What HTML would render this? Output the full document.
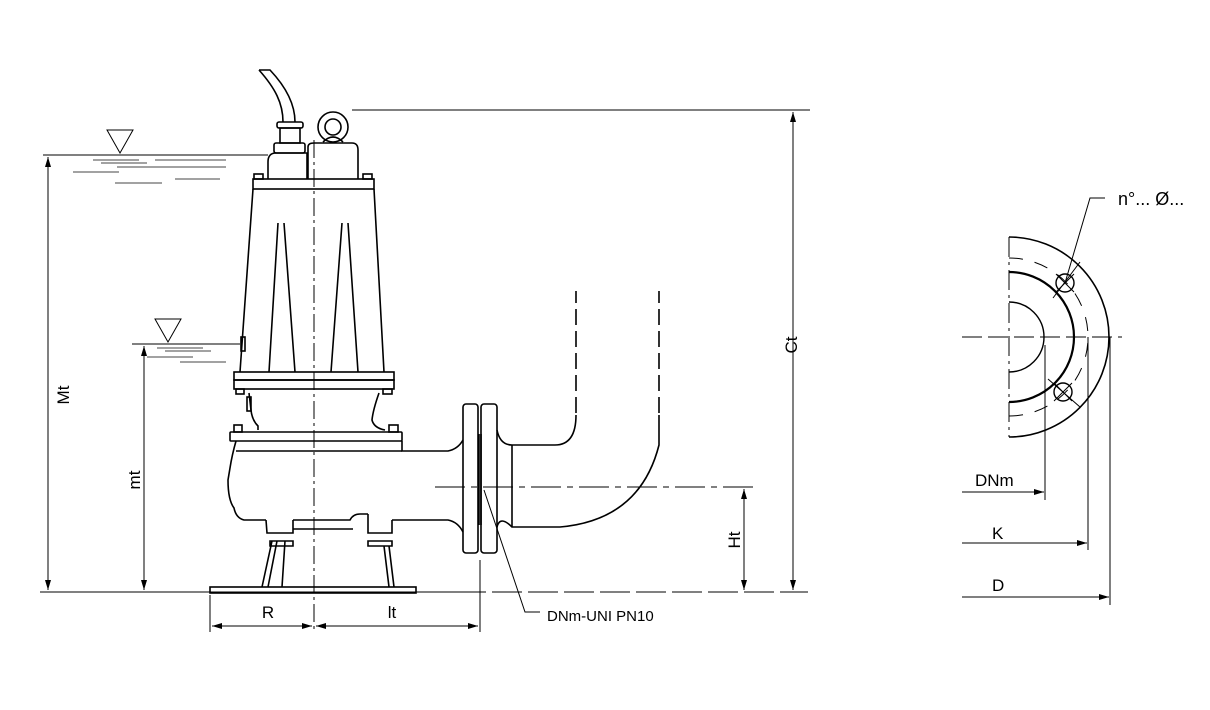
<!DOCTYPE html>
<html><head><meta charset="utf-8"><style>
html,body{margin:0;padding:0;background:#fff;width:1210px;height:710px;overflow:hidden}
svg{display:block}
text{font-family:"Liberation Sans",Arial,sans-serif;fill:#000}
</style></head><body>
<svg width="1210" height="710" viewBox="0 0 1210 710" xmlns="http://www.w3.org/2000/svg">
<defs>
<marker id="a" viewBox="0 0 10 6" refX="10" refY="3" markerWidth="10" markerHeight="6" orient="auto-start-reverse" markerUnits="userSpaceOnUse"><path d="M0,0 L10,3 L0,6 z" fill="#000"/></marker>
</defs>
<g fill="none" stroke="#000" stroke-width="1">
<line x1="43" y1="155" x2="268" y2="155"/>
<path d="M107,130 L133,130 L120,153 z"/>
<g stroke="#444"><line x1="93" y1="160" x2="139" y2="160"/><line x1="101" y1="163" x2="147" y2="163"/><line x1="155" y1="160" x2="226" y2="160"/><line x1="117" y1="167" x2="226" y2="167"/><line x1="73" y1="172" x2="119" y2="172"/><line x1="115" y1="183" x2="162" y2="183"/><line x1="175" y1="179" x2="220" y2="179"/></g>
<line x1="132" y1="344" x2="240" y2="344"/>
<path d="M155,319 L181,319 L168,342 z"/>
<g stroke="#444"><line x1="157" y1="348" x2="203" y2="348"/><line x1="165" y1="351" x2="211" y2="351"/><line x1="147" y1="357" x2="193" y2="357"/><line x1="180" y1="362" x2="226" y2="362"/></g>
<line x1="48" y1="157" x2="48" y2="590" marker-start="url(#a)" marker-end="url(#a)"/>
<line x1="144" y1="346" x2="144" y2="590" marker-start="url(#a)" marker-end="url(#a)"/>
<line x1="40" y1="592" x2="460" y2="592"/>
<line x1="420" y1="592" x2="808" y2="592" stroke-dasharray="30,6"/>
<line x1="352" y1="110" x2="810" y2="110"/>
<line x1="793" y1="112" x2="793" y2="590" marker-start="url(#a)" marker-end="url(#a)"/>
<line x1="744" y1="489" x2="744" y2="590" marker-start="url(#a)" marker-end="url(#a)"/>
<line x1="314" y1="140" x2="314" y2="632" stroke-dasharray="18,4,3,4"/>
</g>
<g fill="none" stroke="#000" stroke-width="1.6">
<path d="M259,70 L270,70 C287,88 295,105 295,122"/>
<path d="M259,70 C275,88 283,103 283,122"/>
<rect x="277" y="122" width="26" height="6" rx="2"/>
<rect x="280" y="128" width="20" height="15"/>
<rect x="274" y="143" width="31" height="10" rx="2"/>
<circle cx="333" cy="127" r="15"/><circle cx="333" cy="127" r="8"/>
<path d="M323,142 Q333,132 343,142"/>
<path d="M268,179 L268,162 Q268,153 276,153 L307,153 L307,179"/>
<path d="M308,179 L308,147 Q308,143 314,143 L352,143 Q358,143 358,150 L358,179"/>
<rect x="254" y="174" width="9" height="5"/><rect x="363" y="174" width="9" height="5"/>
<rect x="253" y="179" width="121" height="10"/>
<path d="M253,189 L240,372 M374,189 L384,372"/>
<path d="M278,223 L269,372 M284,223 L295,372 M342,223 L331,372 M348,223 L358,372"/>
<rect x="241" y="337" width="4" height="14"/>
<rect x="234" y="372" width="160" height="8"/><rect x="234" y="380" width="160" height="9"/>
<rect x="236" y="389" width="8" height="5"/><rect x="383" y="389" width="9" height="5"/>
<path d="M249,393 L251,410 Q252,420 258,426 L258,430"/>
<path d="M379,393 Q373,410 372,420 Q374,428 385,430"/>
<rect x="247" y="397" width="4" height="14"/>
<rect x="234" y="425" width="8" height="7"/><rect x="389" y="425" width="9" height="7"/>
<rect x="230" y="432" width="172" height="9" rx="1"/>
<path d="M236,441 Q232,455 230,468 L228,480 Q228,500 234,508 Q236,518 244,520 L266,520"/>
<line x1="236" y1="451" x2="402" y2="451"/>
<path d="M402,441 L402,451 L448,451 Q458,449 463,440"/>
<path d="M293,520 L350,520 Q353,514 360,514 L368,514 M392,520 L448,520 Q458,522 463,532"/>
<path d="M293,529 L353,529"/>
<path d="M266,520 L267,533 L293,533 L293,520"/>
<path d="M368,514 L368,533 L392,533 L392,520"/>
<path d="M272,541 L262,587 M277,541 L268,587 M285,541 L282,587 M270,541 L293,541 L293,546 L270,546 z"/>
<path d="M368,541 L392,541 L392,546 L368,546 z M384,546 L389,587 M389,546 L394,587"/>
<rect x="210" y="587" width="206" height="6"/>
<rect x="463" y="404" width="15" height="149" rx="3"/>
<rect x="481" y="404" width="16" height="149" rx="3"/>
<line x1="479" y1="434" x2="479" y2="525"/><line x1="481" y1="434" x2="481" y2="525"/>
<path d="M497,430 Q500,445 512,445 L555,445 Q576,445 576,415"/>
<path d="M497,527 Q500,515 512,527 L560,527 Q640,520 659,445 L659,415"/>
<line x1="512" y1="445" x2="512" y2="527"/>
<line x1="576" y1="413" x2="576" y2="291" stroke-dasharray="16,6"/>
<line x1="659" y1="413" x2="659" y2="291" stroke-dasharray="16,6"/>
</g>
<g fill="none" stroke="#000" stroke-width="1">
<line x1="435" y1="487" x2="758" y2="487" stroke-dasharray="30,6,6,6"/>
<line x1="210" y1="595" x2="210" y2="632"/>
<line x1="480" y1="560" x2="480" y2="632"/>
<line x1="212" y1="626" x2="312" y2="626" marker-start="url(#a)" marker-end="url(#a)"/>
<line x1="316" y1="626" x2="478" y2="626" marker-start="url(#a)" marker-end="url(#a)"/>
<path d="M484,490 L525,612 L540,612"/>
<path d="M1009,237 A100,100 0 0 1 1009,437" stroke-width="1.6"/>
<path d="M1009,237 L1009,437" stroke-dasharray="20,5,3,5"/>
<path d="M1009,272 A65,65 0 0 1 1009,402" stroke-width="2.2"/>
<path d="M1009,302 A35,35 0 0 1 1009,372" stroke-width="1.4"/>
<path d="M1009,258 A79,79 0 0 1 1009,416" stroke-dasharray="14,12"/>
<circle cx="1065" cy="283" r="9" stroke-width="1.4"/>
<circle cx="1063" cy="392" r="9" stroke-width="1.4"/>
<path d="M1056,274 L1074,292 M1074,274 L1056,292 M1054,401 L1072,383 M1054,383 L1072,401"/>
<line x1="1053" y1="298" x2="1080" y2="262"/><line x1="1048" y1="379" x2="1080" y2="407"/>
<path d="M1065,283 L1090,198 L1105,198"/>
<line x1="962" y1="337" x2="1122" y2="337" stroke-dasharray="20,6"/>
<line x1="1045" y1="345" x2="1045" y2="500"/>
<line x1="1088" y1="337" x2="1088" y2="550"/>
<line x1="1110" y1="337" x2="1110" y2="605"/>
<line x1="962" y1="492" x2="1044" y2="492" marker-end="url(#a)"/>
<line x1="962" y1="543" x2="1087" y2="543" marker-end="url(#a)"/>
<line x1="962" y1="597" x2="1109" y2="597" marker-end="url(#a)"/>
</g>
<g font-size="17">
<text x="0" y="0" transform="translate(69,395) rotate(-90)" text-anchor="middle">Mt</text>
<text x="0" y="0" transform="translate(140,480) rotate(-90)" text-anchor="middle">mt</text>
<text x="0" y="0" transform="translate(740,540) rotate(-90)" text-anchor="middle">Ht</text>
<text x="0" y="0" transform="translate(797,345) rotate(-90)" text-anchor="middle">Ct</text>
<text x="268" y="618" text-anchor="middle">R</text>
<text x="392" y="618" text-anchor="middle">lt</text>
<text x="547" y="621" font-size="15">DNm-UNI PN10</text>
<text x="975" y="486">DNm</text>
<text x="992" y="539">K</text>
<text x="992" y="591">D</text>
<text x="1118" y="205" font-size="18">n°... Ø...</text>
</g>
</svg>
</body></html>
